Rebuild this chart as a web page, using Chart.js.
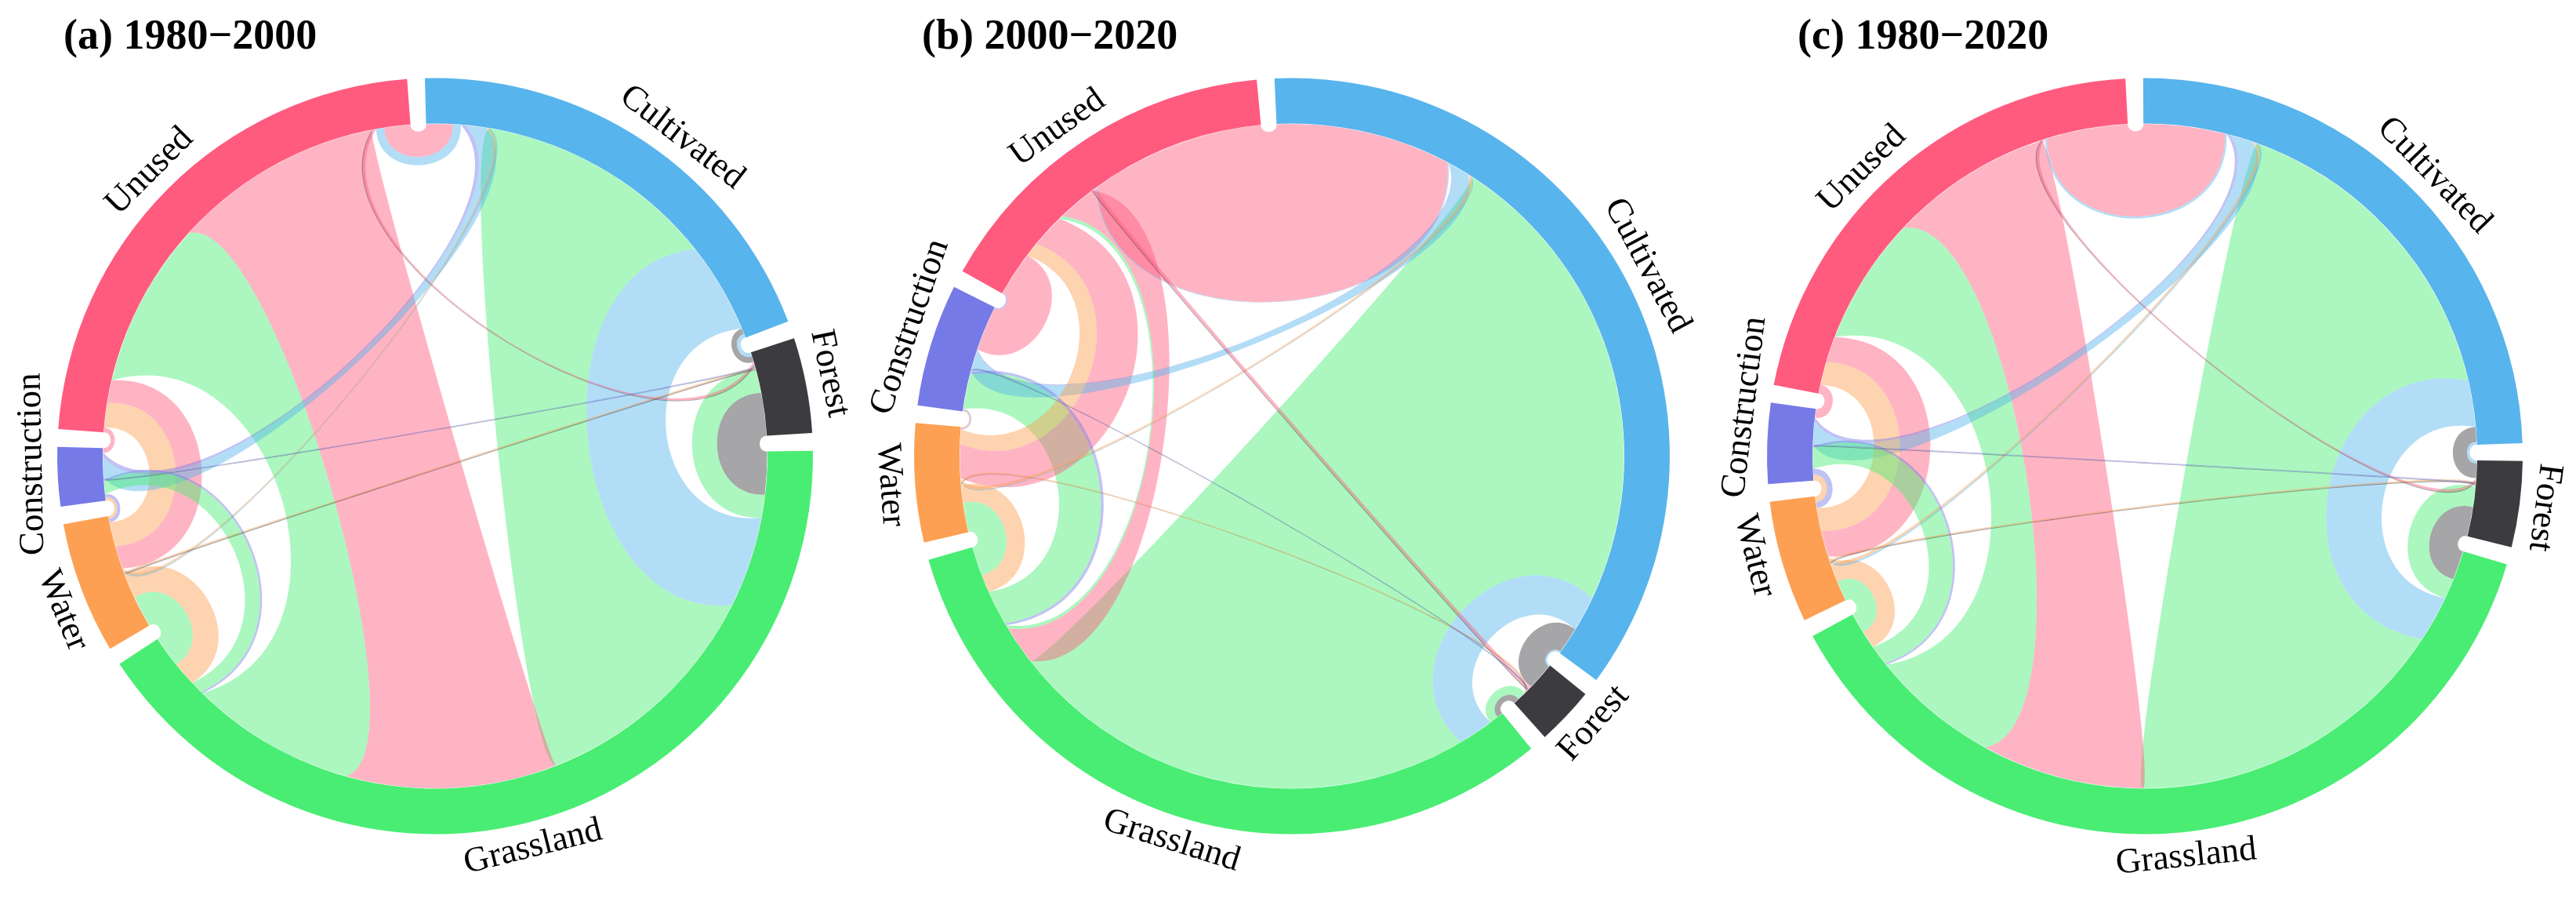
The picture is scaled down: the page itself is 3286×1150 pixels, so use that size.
<!DOCTYPE html>
<html>
<head>
<meta charset="utf-8">
<title>Land use transfer chord diagrams</title>
<script src="https://cdn.jsdelivr.net/npm/chart.js@4.4.1/dist/chart.umd.min.js"></script>
<style>
  html, body { margin: 0; padding: 0; background: #fff; }
  body { position: relative; width: 3286px; height: 1150px; overflow: hidden; }
  canvas { position: absolute; top: 0; }
  .panel-title {
    position: absolute; top: 17px;
    font: bold 54px "Liberation Serif", "Times New Roman", serif;
    line-height: 54px; white-space: nowrap; color: #000;
  }
</style>
</head>
<body>
<canvas id="chord0" width="1096" height="1150"></canvas>
<canvas id="chord1" width="1096" height="1150"></canvas>
<canvas id="chord2" width="1096" height="1150"></canvas>

<script>
'use strict';

/* ── Data ───────────────────────────────────── */

const CATEGORIES = ['Cultivated', 'Forest', 'Grassland', 'Water', 'Construction', 'Unused'];
const PANEL_TITLES = ['(a) 1980\u22122000', '(b) 2000\u22122020', '(c) 1980\u22122020'];

/* rows = from, columns = to (same order as CATEGORIES) */
const FLOWS_1980_2000 = [
  [0,   0.7, 16,  0.3, 3.6, 1.4],
  [1.0, 0,   7.5, 0.2, 0.1, 0.2],
  [42,  4,   0,   5.5, 2.2, 29 ],
  [0.4, 0.3, 4.2, 0,   0.5, 4.3],
  [0.8, 0.2, 0.3, 0.6, 0,   0  ],
  [4.6, 0.5, 37,  4.0, 0.8, 0  ]
];

const FLOWS_2000_2020 = [
  [0,   0.3, 6,   0.2, 3.5, 0.2],
  [4.5, 0,   1.0, 0.1, 0.1, 0.2],
  [81,  1.5, 0,   5,   6,   0.6],
  [0.6, 0.3, 3,   0,   0.2, 2.5],
  [0.2, 0.2, 0.4, 0.2, 0,   0.2],
  [30,  0.6, 6.7, 5.8, 7.5, 0  ]
];

const FLOWS_1980_2020 = [
  [0,   0.5, 8,   0.4, 4.0, 0.3],
  [2.5, 0,   5,   0.2, 0.1, 0.2],
  [56,  3.5, 0,   3.5, 3.5, 22 ],
  [0.6, 0.3, 3,   0,   1.0, 4  ],
  [0.6, 0.2, 0.3, 1.0, 0,   0  ],
  [14,  0.5, 28,  4.5, 1.5, 0  ]
];

/* ── Style / layout ─────────────────────────── */

const SECTOR_COLORS = ['#58b4ec', '#3c3b40', '#49ed73', '#fda053', '#767ae6', '#ff5b7f'];
const LINK_ALPHA  = 0.46;
const GAP_DEG     = 2.7;
const OUTER_R     = 482;
const RING_W      = 58;
const LABEL_R     = 514;
const LABEL_FONT  = '45px "Liberation Serif", "Times New Roman", serif';

const PANELS = [
  { flows: FLOWS_1980_2000, rotation: -1.55, left: 7,    titleX: 81,
    labelShift: [4, -1, 3, -2, 2, 0] },
  { flows: FLOWS_2000_2020, rotation: -2.65, left: 1100, titleX: 1176,
    labelShift: [0, -2, 0, 0, 1.5, -2.5] },
  { flows: FLOWS_1980_2020, rotation: -0.25, left: 2188, titleX: 2293,
    labelShift: [2, 0, 0, 2, 5, -3.5] }
];

/* ── Helpers ────────────────────────────────── */

function hexToRgba(hex, a) {
  const v = parseInt(hex.slice(1), 16);
  return `rgba(${(v >> 16) & 255},${(v >> 8) & 255},${v & 255},${a})`;
}

/** Sector size = everything leaving + everything arriving */
function sectorTotals(flows) {
  return flows.map((row, i) =>
    row.reduce((s, v, j) => s + (j === i ? 0 : v + flows[j][i]), 0));
}

/**
 * Curve between two rim points. Close points get a round loop,
 * far-apart points an almost straight edge.
 */
function bendTo(ctx, cx, cy, r, a, b) {
  const x1 = cx + r * Math.cos(a), y1 = cy + r * Math.sin(a);
  const x2 = cx + r * Math.cos(b), y2 = cy + r * Math.sin(b);
  const mx = (x1 + x2) / 2 - cx, my = (y1 + y2) / 2 - cy;
  const m = Math.hypot(mx, my);
  if (m < 0.5) { ctx.lineTo(x2, y2); return; }
  const c = Math.hypot(x2 - x1, y2 - y1);
  const delta = 2 * Math.asin(Math.min(c / (2 * r), 1));          // 0..PI
  const g = delta <= Math.PI / 2 ? 0.45 : 0.45 - 0.25 * (delta - Math.PI / 2) / (Math.PI / 2);
  const h = Math.min(0.45 * c, g * m);
  const k = (4 / 3) * h;
  const ux = mx / m, uy = my / m;
  ctx.bezierCurveTo(x1 - ux * k, y1 - uy * k, x2 - ux * k, y2 - uy * k, x2, y2);
}

/* ── Chord plugin: ribbons under the ring, labels after ── */

const chordPlugin = {
  id: 'chords',

  beforeDatasetsDraw(chart, args, opts) {
    const flows = opts.flows;
    const n = flows.length;
    const totals = sectorTotals(flows);
    const arcs = chart.getDatasetMeta(0).data;
    const src = flows.map(() => []);
    const dst = flows.map(() => []);
    let cx = 0, cy = 0, r = 0;

    for (let i = 0; i < n; i++) {
      const p = arcs[2 * i].getProps(['x', 'y', 'startAngle', 'endAngle', 'innerRadius'], true);
      cx = p.x; cy = p.y; r = p.innerRadius - 0.5;
      const k = (p.endAngle - p.startAngle) / totals[i];
      let cur = p.startAngle;
      /* partners ordered from the neighbour behind round to the neighbour ahead */
      for (let step = 1; step < n; step++) {
        const j = (i - step + n) % n;
        const inV = flows[j][i], outV = flows[i][j];
        if (inV > 0)  { dst[j][i] = [cur, cur + inV * k]; cur += inV * k; }
        if (outV > 0) { src[i][j] = [cur, cur + outV * k]; cur += outV * k; }
      }
    }

    const links = [];
    flows.forEach((row, i) => row.forEach((v, j) => {
      if (i !== j && v > 0) links.push({ i, j, v });
    }));
    links.sort((a, b) => b.v - a.v);

    const ctx = chart.ctx;
    ctx.save();
    links.forEach(({ i, j }) => {
      const [s0, s1] = src[i][j];
      const [t0, t1] = dst[i][j];
      ctx.beginPath();
      ctx.moveTo(cx + r * Math.cos(s0), cy + r * Math.sin(s0));
      ctx.arc(cx, cy, r, s0, s1);
      bendTo(ctx, cx, cy, r, s1, t0);
      ctx.arc(cx, cy, r, t0, t1);
      bendTo(ctx, cx, cy, r, t1, s0);
      ctx.closePath();
      ctx.fillStyle = hexToRgba(SECTOR_COLORS[i], LINK_ALPHA);
      ctx.fill();
    });
    ctx.restore();
  },

  afterDatasetsDraw(chart, args, opts) {
    const arcs = chart.getDatasetMeta(0).data;
    const ctx = chart.ctx;
    ctx.save();
    ctx.font = LABEL_FONT;
    ctx.fillStyle = '#000';
    ctx.textAlign = 'center';
    ctx.textBaseline = 'middle';
    CATEGORIES.forEach((name, i) => {
      const p = arcs[2 * i].getProps(['x', 'y', 'startAngle', 'endAngle'], true);
      const mid = (p.startAngle + p.endAngle) / 2 + opts.labelShift[i] * Math.PI / 180;
      const deg = (((mid + Math.PI / 2) * 180 / Math.PI) % 360 + 360) % 360;
      const flip = deg > 100 && deg < 268;
      ctx.save();
      ctx.translate(p.x + LABEL_R * Math.cos(mid), p.y + LABEL_R * Math.sin(mid));
      ctx.rotate(flip ? mid - Math.PI / 2 : mid + Math.PI / 2);
      ctx.fillText(name, 0, 0);
      ctx.restore();
    });
    ctx.restore();
  }
};

/* ── Build the three panels ─────────────────── */

PANELS.forEach((panel, idx) => {
  const canvas = document.getElementById('chord' + idx);
  canvas.style.left = panel.left + 'px';

  const totals = sectorTotals(panel.flows);
  const sum = totals.reduce((s, v) => s + v, 0);
  const gap = sum * GAP_DEG / (360 - GAP_DEG * totals.length);

  const values = [], colors = [], labels = [];
  totals.forEach((t, i) => {
    values.push(t, gap);
    colors.push(SECTOR_COLORS[i], 'rgba(0,0,0,0)');
    labels.push(CATEGORIES[i], '');
  });

  new Chart(canvas, {
    type: 'doughnut',
    data: {
      labels,
      datasets: [{
        data: values,
        backgroundColor: colors,
        borderWidth: 0,
        hoverOffset: 0
      }]
    },
    options: {
      responsive: false,
      animation: false,
      events: [],
      rotation: panel.rotation,
      cutout: ((OUTER_R - RING_W) / OUTER_R * 100).toFixed(3) + '%',
      layout: { padding: { top: 99.5, bottom: 86.5, left: 66, right: 66 } },
      plugins: {
        legend: { display: false },
        tooltip: { enabled: false },
        chords: { flows: panel.flows, labelShift: panel.labelShift }
      }
    },
    plugins: [chordPlugin]
  });

  const title = document.createElement('div');
  title.className = 'panel-title';
  title.style.left = panel.titleX + 'px';
  title.textContent = PANEL_TITLES[idx];
  document.body.appendChild(title);
});
</script>
</body>
</html>
